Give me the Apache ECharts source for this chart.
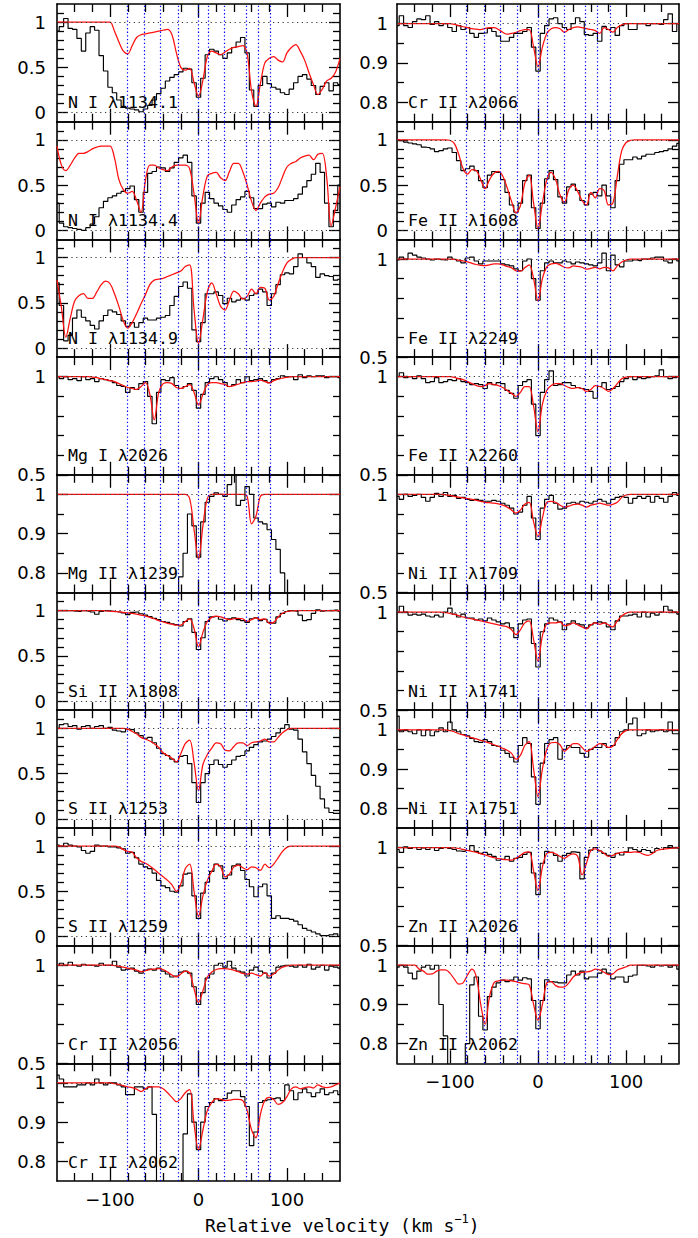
<!DOCTYPE html>
<html><head><meta charset="utf-8">
<script src="https://cdn.jsdelivr.net/npm/echarts@6/dist/echarts.min.js"></script>
<style>html,body{margin:0;padding:0;background:#fff}#c{width:698px;height:1238px}</style>
</head><body><div id="c"></div>
<script>
// ---------- data ----------
const velocity = [-160,-155,-150,-145,-140,-135,-130,-125,-120,-115,-110,-105,-100,
 -95,-90,-85,-80,-75,-70,-65,-60,-55,-50,-45,-40,-35,
 -30,-25,-20,-15,-10,-5,0,5,10,15,20,25,30,
 35,40,45,50,55,60,65,70,75,80,85,90,95,
 100,105,110,115,120,125,130,135,140,145,150,155,160];

const components = [-81,-61,-43,-23,0,10.5,29.5,53.5,67.5,81.5];
const xMinorTicks = [-140,-120,-80,-60,-40,-20,20,40,60,80,120,140];
const xMajorTicks = [-100,0,100];
const fullMajor = [0,0.5,1], fullMinor = [0.1,0.2,0.3,0.4,0.6,0.7,0.8,0.9,1.1];
const midMajor = [0.5,1], midMinor = [0.6,0.7,0.8,0.9];
const narrowMajor = [0.8,0.9,1], narrowMinor = [0.85,0.95];

const NI1134_1_obs = [0.9,0.95,1.04,0.93,0.92,0.82,0.68,0.88,0.95,0.91,0.63,0.46,0.28,
 0.22,0.14,0.07,0.05,0.04,0.03,0.01,0.04,0.08,0.14,0.21,0.27,0.35,
 0.39,0.42,0.45,0.49,0.48,0.33,0.17,0.38,0.64,0.7,0.68,0.64,0.6,
 0.66,0.72,0.78,0.83,0.66,0.25,0.07,0.3,0.4,0.32,0.28,0.26,0.22,
 0.2,0.26,0.33,0.4,0.42,0.37,0.3,0.2,0.29,0.33,0.24,0.33,0.31];
const NI1134_1_fit = [1,1,1,1,1,1,1,1,1,1,1,1,1,
 0.9,0.78,0.68,0.65,0.74,0.83,0.86,0.87,0.88,0.89,0.9,0.91,0.92,
 0.86,0.66,0.5,0.47,0.49,0.33,0.18,0.36,0.62,0.68,0.66,0.64,0.67,
 0.7,0.72,0.73,0.74,0.65,0.24,0.07,0.32,0.55,0.6,0.62,0.58,0.56,
 0.66,0.72,0.75,0.68,0.58,0.44,0.31,0.2,0.26,0.35,0.38,0.45,0.6];

const NI1134_4_obs = [0.3,0.08,0.04,0.03,0.02,0.01,0.0,0.03,0.07,0.15,0.25,0.32,0.36,
 0.38,0.41,0.43,0.46,0.49,0.34,0.2,0.42,0.63,0.65,0.7,0.69,0.65,
 0.69,0.75,0.8,0.83,0.75,0.38,0.08,0.3,0.42,0.35,0.3,0.27,0.23,
 0.2,0.28,0.34,0.37,0.43,0.36,0.24,0.24,0.29,0.3,0.26,0.31,0.3,
 0.33,0.33,0.35,0.4,0.48,0.55,0.62,0.74,0.64,0.3,0.04,0.22,0.5];
const NI1134_4_fit = [0.93,0.72,0.66,0.72,0.8,0.85,0.85,0.87,0.9,0.92,0.93,0.93,0.93,
 0.8,0.56,0.45,0.41,0.43,0.33,0.2,0.55,0.72,0.72,0.69,0.67,0.66,
 0.7,0.72,0.72,0.72,0.68,0.4,0.08,0.38,0.6,0.63,0.64,0.58,0.55,
 0.65,0.74,0.74,0.65,0.5,0.32,0.22,0.3,0.37,0.4,0.41,0.47,0.59,
 0.7,0.74,0.76,0.8,0.82,0.83,0.78,0.84,0.85,0.58,0.05,0.25,0.48];

const NI1134_9_obs = [0.72,0.47,0.08,0.14,0.33,0.42,0.34,0.3,0.25,0.21,0.3,0.36,0.42,
 0.4,0.37,0.3,0.24,0.28,0.23,0.28,0.33,0.31,0.31,0.33,0.34,0.36,
 0.47,0.57,0.68,0.73,0.66,0.2,0.07,0.28,0.6,0.6,0.62,0.58,0.49,
 0.55,0.51,0.53,0.55,0.53,0.58,0.6,0.65,0.62,0.47,0.6,0.7,0.81,
 0.83,0.82,0.9,1.04,1.0,0.94,0.9,0.78,0.82,0.8,0.79,0.75,0.76];
const NI1134_9_fit = [0.75,0.45,0.12,0.33,0.52,0.58,0.6,0.55,0.55,0.62,0.7,0.74,0.71,
 0.6,0.46,0.3,0.22,0.28,0.38,0.49,0.59,0.7,0.75,0.76,0.77,0.79,
 0.81,0.83,0.85,0.9,0.92,0.42,0.05,0.32,0.62,0.72,0.6,0.46,0.42,
 0.53,0.63,0.6,0.54,0.57,0.65,0.6,0.67,0.66,0.53,0.57,0.71,0.84,
 0.94,0.98,1,1,1,1,1,1,1,1,1,1,1];

const MgI2026_obs = [1.0,0.99,1.0,0.985,0.99,0.98,1.0,0.985,0.99,0.975,0.99,0.985,0.98,
 0.97,0.955,0.95,0.92,0.945,0.935,0.965,0.975,0.9,0.76,0.92,0.985,0.98,
 0.995,0.955,0.94,0.95,0.965,0.93,0.84,0.91,0.97,0.99,1.0,0.985,0.97,
 0.95,0.96,0.985,0.97,1.0,0.98,0.985,0.99,0.98,0.97,0.985,0.99,1.005,
 1.0,1.0,0.985,1.01,0.995,1.005,1.0,1.005,1.005,0.995,1.0,1.0,0.995];
const MgI2026_fit = [1,1,1,1,1,1,1,1,0.998,0.995,0.99,0.985,0.98,
 0.975,0.965,0.955,0.945,0.94,0.935,0.95,0.97,0.91,0.78,0.92,0.965,0.97,
 0.965,0.945,0.94,0.95,0.96,0.92,0.855,0.91,0.96,0.97,0.97,0.965,0.96,
 0.95,0.955,0.962,0.97,0.975,0.975,0.978,0.982,0.975,0.968,0.98,0.988,0.993,
 0.997,1,1,1,1,1,1,1,1,1,1,1,1];

const MgII1239_obs = [0.7,0.7,0.7,0.7,0.7,0.7,0.7,0.7,0.7,0.7,0.7,0.7,0.7,
 0.7,0.7,0.7,0.7,0.7,0.7,0.7,0.7,0.7,0.7,0.7,0.7,0.7,
 0.7,0.72,0.79,0.85,0.95,0.92,0.84,0.93,0.98,0.995,1.004,1.0,0.995,
 1.025,1.06,0.972,0.985,1.02,1.0,0.94,0.93,0.925,0.91,0.885,0.86,0.8,
 0.72,0.7,0.7,0.7,0.7,0.7,0.7,0.7,0.7,0.7,0.7,0.7,0.7];
const MgII1239_fit = [1,1,1,1,1,1,1,1,1,1,1,1,1,
 1,1,1,1,1,1,1,1,1,1,1,1,1,
 1,1,1,1,0.99,0.91,0.835,0.92,0.99,1,1,1,1,
 1,1,1,1,0.995,0.925,0.945,0.995,1,1,1,1,1,
 1,1,1,1,1,1,1,1,1,1,1,1,1];

const SiII1808_obs = [1.0,1.0,1.0,1.0,0.995,0.99,1.0,0.995,0.985,0.96,0.99,1.0,0.995,
 0.99,0.985,0.975,0.955,0.98,0.985,0.965,0.95,0.935,0.915,0.9,0.88,0.87,
 0.855,0.845,0.83,0.88,0.91,0.76,0.57,0.7,0.88,0.93,0.935,0.905,0.885,
 0.91,0.92,0.9,0.89,0.87,0.91,0.92,0.89,0.905,0.87,0.86,0.93,0.97,
 0.99,1.0,0.995,0.95,0.89,0.9,0.97,1.01,0.995,1.0,1.0,1.005,0.995];
const SiII1808_fit = [1,1,1,1,1,1,1,1,1,1,1,0.998,0.995,
 0.99,0.985,0.98,0.975,0.97,0.96,0.95,0.94,0.925,0.91,0.89,0.875,0.86,
 0.85,0.84,0.84,0.88,0.91,0.8,0.6,0.76,0.88,0.925,0.94,0.93,0.915,
 0.9,0.91,0.915,0.91,0.88,0.9,0.92,0.9,0.91,0.86,0.87,0.93,0.97,
 0.99,0.998,1,1,1,1,1,1,1,1,1,1,1];

const SII1253_obs = [1.0,1.04,1.05,1.02,1.03,0.99,1.02,1.03,1.0,1.02,1.03,1.0,1.01,
 0.98,0.97,0.96,0.99,0.985,0.95,0.92,0.89,0.9,0.84,0.78,0.72,0.7,
 0.66,0.63,0.69,0.7,0.61,0.4,0.18,0.4,0.5,0.6,0.65,0.6,0.57,
 0.6,0.65,0.69,0.7,0.75,0.79,0.82,0.85,0.86,0.88,0.91,0.95,1.0,
 1.04,0.99,0.98,0.88,0.74,0.61,0.48,0.36,0.22,0.12,0.07,0.06,0.06];
const SII1253_fit = [1,1,1,1,1,1,1,1,1,1,1,1,1,
 1,1,1,0.99,0.965,0.94,0.9,0.88,0.86,0.83,0.79,0.73,0.7,
 0.67,0.63,0.72,0.83,0.87,0.62,0.31,0.6,0.71,0.78,0.84,0.83,0.76,
 0.75,0.8,0.84,0.84,0.81,0.84,0.85,0.86,0.88,0.85,0.85,0.9,0.95,
 0.985,1,1,1,1,1,1,1,1,1,1,1,1];

const SII1259_obs = [1.01,1.0,1.03,1.01,1.0,0.99,0.95,0.92,0.94,1.01,1.0,1.0,0.99,
 0.99,0.98,0.97,0.92,0.93,0.87,0.8,0.77,0.75,0.7,0.62,0.56,0.54,
 0.5,0.49,0.56,0.69,0.7,0.45,0.2,0.48,0.6,0.72,0.8,0.78,0.64,
 0.68,0.78,0.8,0.73,0.63,0.55,0.44,0.55,0.58,0.45,0.2,0.23,0.2,
 0.2,0.19,0.17,0.13,0.09,0.07,0.05,0.03,0.01,0.01,0.02,0.03,0.0];
const SII1259_fit = [1,1,1,1,1,1,1,1,1,1,1,1,1,
 1.0,0.99,0.96,0.94,0.93,0.87,0.83,0.81,0.78,0.74,0.7,0.66,0.62,
 0.57,0.5,0.58,0.75,0.8,0.5,0.22,0.45,0.62,0.72,0.8,0.77,0.66,
 0.69,0.77,0.79,0.76,0.74,0.77,0.76,0.73,0.8,0.76,0.8,0.87,0.94,
 0.985,1,1,1,1,1,1,1,1,1,1,1,1];

const CrII2056_obs = [1.0,1.01,1.0,1.015,1.0,0.995,1.005,1.0,1.0,0.995,1.01,1.0,1.0,
 1.02,0.99,0.975,0.98,0.985,0.97,0.96,0.975,0.98,0.975,0.985,0.97,0.955,
 0.94,0.945,0.965,0.97,0.96,0.89,0.8,0.86,0.935,0.955,1.0,1.01,0.99,
 1.02,0.985,0.97,0.965,0.945,0.975,0.99,0.97,0.96,0.935,0.96,0.99,0.995,
 1.0,0.995,0.99,1.0,0.99,1.005,0.98,0.99,1.0,0.975,0.995,0.99,0.985];
const CrII2056_fit = [1,1,1,1,1,1,1,1,1,1,1,1,1,
 0.998,0.995,0.99,0.985,0.98,0.975,0.967,0.972,0.978,0.98,0.982,0.978,0.965,
 0.95,0.94,0.955,0.97,0.96,0.88,0.81,0.87,0.94,0.965,0.978,0.982,0.982,
 0.98,0.975,0.967,0.958,0.955,0.96,0.952,0.945,0.962,0.945,0.955,0.975,0.99,
 0.997,1,1,1,1,1,1,1,1,1,1,1,1];

const CrII2062_obs = [1.02,1.01,0.99,0.99,0.99,0.995,0.995,1.0,0.995,1.01,1.0,0.995,1.0,
 1.0,0.995,0.99,0.97,0.97,0.99,0.99,0.985,0.99,0.92,0.6,0.6,0.6,
 0.6,0.6,0.68,0.87,0.972,0.9,0.83,0.9,0.94,0.95,0.96,0.955,0.96,
 0.974,0.98,0.98,0.965,0.94,0.84,0.875,0.95,0.955,0.957,0.96,0.962,0.955,
 0.995,0.98,0.957,0.975,0.985,0.975,0.965,0.975,0.985,0.97,0.975,0.98,0.97];
const CrII2062_fit = [1,1,1,1,1,1,1,1,1,1,1,1,1,
 0.998,0.996,0.993,0.99,0.988,0.984,0.978,0.985,0.99,0.99,0.99,0.985,0.975,
 0.963,0.952,0.96,0.975,0.983,0.895,0.83,0.88,0.93,0.95,0.96,0.958,0.955,
 0.956,0.958,0.958,0.955,0.93,0.88,0.86,0.92,0.955,0.963,0.958,0.945,0.95,
 0.965,0.985,0.99,0.985,0.988,0.99,0.987,0.995,0.99,0.988,0.99,0.995,1.0];

const CrII2066_obs = [0.995,1.02,0.995,0.99,1.005,1.012,1.01,1.02,0.998,1.005,0.995,1.0,0.99,
 0.98,0.995,0.985,0.99,0.975,0.965,0.975,0.976,0.988,0.98,0.968,0.955,0.955,
 0.965,0.975,0.975,0.98,0.99,0.94,0.879,0.975,0.995,1.012,1.015,1.0,0.99,
 0.985,1.0,1.015,1.005,0.972,0.97,0.975,0.955,0.993,0.985,0.99,0.97,0.995,
 1.0,0.985,0.985,1.0,1.0,0.995,1.0,1.0,0.998,1.01,1.025,0.98,1.0];
const CrII2066_fit = [1,1,1,1,1,1,1,1,1,1,1,1,1,
 0.998,0.995,0.992,0.99,0.987,0.986,0.985,0.988,0.99,0.99,0.985,0.978,0.973,
 0.975,0.978,0.982,0.985,0.985,0.94,0.89,0.94,0.975,0.987,0.99,0.987,0.978,
 0.985,0.99,0.992,0.99,0.987,0.985,0.982,0.975,0.99,0.985,0.978,0.99,0.997,
 1,1,1,1,1,1,1,1,1,1,1,1,1];

const FeII1608_obs = [1.0,0.99,0.975,0.965,0.955,0.945,0.92,0.915,0.9,0.87,0.88,0.9,0.91,
 0.86,0.77,0.66,0.68,0.71,0.66,0.55,0.47,0.61,0.65,0.64,0.56,0.42,
 0.28,0.2,0.3,0.55,0.61,0.25,0.02,0.3,0.57,0.66,0.56,0.37,0.3,
 0.48,0.51,0.44,0.33,0.28,0.4,0.42,0.38,0.5,0.38,0.25,0.55,0.73,
 0.78,0.78,0.81,0.79,0.82,0.84,0.84,0.86,0.87,0.88,0.9,0.93,0.96];
const FeII1608_fit = [1,1,1,1,1,1,1,1,1,1,1,1,0.995,
 0.96,0.84,0.68,0.62,0.67,0.66,0.56,0.46,0.56,0.63,0.65,0.6,0.47,
 0.32,0.19,0.27,0.52,0.61,0.3,0.02,0.3,0.56,0.64,0.56,0.39,0.31,
 0.45,0.5,0.43,0.33,0.28,0.42,0.36,0.46,0.44,0.28,0.3,0.6,0.88,
 0.97,0.995,1,1,1,1,1,1,1,1,1,1,1];

const FeII2249_obs = [0.995,1.01,1.0,1.03,1.02,1.01,1.005,1.0,0.995,1.0,0.997,0.995,1.01,
 0.998,0.99,0.98,1.005,1.01,0.99,0.975,0.99,0.99,0.99,0.99,0.975,0.97,
 0.965,0.95,0.94,0.99,1.0,0.9,0.79,0.94,0.98,0.99,0.98,0.98,0.99,
 0.985,0.975,0.985,0.98,0.975,0.97,0.965,0.98,1.03,0.94,1.02,0.97,0.96,
 0.99,0.99,0.995,0.992,1.0,1.0,1.005,1.01,1.01,0.99,0.98,1.0,0.99];
const FeII2249_fit = [1,1,1,1,1,1,1,1,1,1,1,1,1,
 0.998,0.994,0.99,0.985,0.978,0.972,0.968,0.966,0.97,0.975,0.975,0.97,0.962,
 0.955,0.94,0.938,0.955,0.97,0.9,0.785,0.9,0.96,0.975,0.978,0.97,0.958,
 0.955,0.965,0.962,0.958,0.948,0.952,0.958,0.95,0.958,0.955,0.94,0.965,0.985,
 0.995,1,1,1,1,1,1,1,1,1,1,1,1];

const FeII2260_obs = [1.0,1.02,0.995,1.0,0.99,1.005,0.99,0.97,0.975,0.995,0.97,0.975,0.985,
 0.98,0.99,0.975,0.97,0.96,0.965,0.96,0.94,0.97,0.96,0.97,0.965,0.93,
 0.915,0.89,0.955,0.975,0.985,0.86,0.7,0.92,0.985,1.03,0.955,0.96,0.97,
 0.97,0.955,0.945,0.94,0.935,0.925,0.89,0.95,0.97,0.935,0.94,0.95,0.975,
 0.99,1.0,0.985,0.995,0.99,0.995,1.0,1.005,1.035,1.0,0.99,0.995,1.0];
const FeII2260_fit = [1,1,1,1,1,1,1,1,1,1,1,1,1,
 0.997,0.99,0.985,0.975,0.965,0.955,0.95,0.955,0.965,0.96,0.955,0.945,0.93,
 0.915,0.9,0.92,0.95,0.95,0.85,0.72,0.86,0.93,0.955,0.965,0.965,0.955,
 0.945,0.94,0.945,0.94,0.925,0.935,0.955,0.95,0.94,0.925,0.94,0.965,0.99,
 0.998,1,1,1,1,1,1,1,1,1,1,1,1];

const NiII1709_obs = [0.99,0.975,1.0,0.99,0.995,1.0,0.985,0.965,0.985,1.005,0.99,1.01,0.99,
 0.995,0.98,0.985,0.975,0.97,0.975,0.97,0.965,0.965,0.97,0.965,0.955,0.945,
 0.93,0.9,0.91,0.945,0.99,0.88,0.77,0.93,0.975,0.995,0.955,0.925,0.93,
 0.955,0.96,0.955,0.965,0.96,0.955,0.965,0.975,0.965,0.955,0.975,0.985,0.99,
 0.985,0.955,0.98,0.99,0.98,0.99,0.96,0.99,0.98,0.96,0.99,1.01,0.995];
const NiII1709_fit = [1,1,1,1,1,1,1,1,1,1,1,0.998,0.995,
 0.99,0.986,0.982,0.978,0.975,0.97,0.965,0.96,0.958,0.955,0.952,0.945,0.935,
 0.92,0.905,0.92,0.95,0.96,0.86,0.785,0.88,0.96,0.965,0.96,0.945,0.935,
 0.94,0.948,0.95,0.945,0.935,0.945,0.95,0.955,0.95,0.945,0.95,0.96,0.985,
 0.997,1,1,1,1,1,1,1,1,1,1,1,1];

const NiII1741_obs = [1.0,1.03,1.0,0.985,0.99,0.985,0.99,0.98,0.975,0.985,0.975,1.0,1.02,
 0.99,0.975,0.99,0.97,0.97,0.96,0.965,0.955,0.97,0.96,0.95,0.94,0.945,
 0.92,0.87,0.94,0.96,0.965,0.84,0.72,0.9,0.94,0.97,0.96,0.95,0.91,
 0.94,0.955,0.94,0.935,0.92,0.935,0.945,0.95,0.945,0.925,0.91,0.955,0.98,
 0.98,0.985,0.99,0.975,1.0,0.975,0.995,0.985,1.0,1.03,1.01,1.0,0.99];
const NiII1741_fit = [1,1,1,1,1,1,1,1,1,1,1,0.997,0.993,
 0.988,0.982,0.975,0.97,0.965,0.96,0.955,0.95,0.945,0.94,0.935,0.93,0.925,
 0.91,0.885,0.91,0.945,0.955,0.86,0.75,0.88,0.94,0.945,0.945,0.95,0.93,
 0.935,0.945,0.935,0.925,0.915,0.935,0.945,0.938,0.945,0.935,0.925,0.955,0.98,
 0.995,1,1,1,1,1,1,1,1,1,1,1,1];

const NiII1751_obs = [1.035,0.995,1.0,0.995,0.99,1.0,0.985,1.0,0.985,0.995,1.005,0.995,1.02,
 1.0,0.995,0.988,0.985,0.978,0.97,0.968,0.975,0.97,0.96,0.958,0.948,0.94,
 0.93,0.918,0.96,0.98,0.965,0.88,0.81,0.915,0.965,0.975,0.98,0.925,0.95,
 0.96,0.955,0.955,0.94,0.93,0.95,0.955,0.955,0.965,0.955,0.96,0.98,0.995,
 1.0,1.015,1.03,0.985,0.99,1.0,0.995,0.998,1.0,0.995,1.02,0.99,0.99];
const NiII1751_fit = [1,1,1,1,1,1,1,1,1,1,1,1,0.998,
 0.995,0.99,0.987,0.983,0.98,0.977,0.973,0.97,0.966,0.962,0.958,0.953,0.948,
 0.94,0.925,0.935,0.96,0.97,0.9,0.83,0.9,0.95,0.967,0.968,0.962,0.945,
 0.955,0.965,0.965,0.955,0.945,0.95,0.958,0.965,0.962,0.955,0.958,0.975,0.99,
 0.998,1,1,1,1,1,1,1,1,1,1,1,1];

const ZnII2026_obs = [0.99,0.975,1.003,0.995,1.0,0.99,0.998,0.99,1.0,0.985,0.995,1.0,0.995,
 0.99,0.982,0.98,0.985,1.01,0.98,0.97,0.975,0.965,0.955,0.935,0.94,0.955,
 0.93,0.945,0.95,0.965,0.975,0.87,0.76,0.92,0.98,0.975,0.96,0.93,0.96,
 0.97,0.978,0.975,0.84,0.95,0.987,1.0,0.982,0.97,0.96,0.95,0.97,0.962,
 0.978,0.998,0.99,0.98,0.99,0.985,0.975,0.995,0.99,1.0,1.01,0.998,0.995];
const ZnII2026_fit = [1,1,1,1,1,1,1,1,1,1,1,1,1,
 0.998,0.995,0.99,0.985,0.98,0.975,0.968,0.962,0.955,0.948,0.944,0.94,0.938,
 0.936,0.945,0.96,0.975,0.978,0.88,0.78,0.9,0.97,0.975,0.968,0.955,0.945,
 0.96,0.968,0.955,0.86,0.92,0.985,0.993,0.985,0.97,0.955,0.96,0.97,0.975,
 0.975,0.975,0.978,0.975,0.965,0.96,0.97,0.985,0.99,0.993,0.995,0.998,1.0];

const ZnII2062_obs = [0.995,1.0,0.995,0.98,0.965,0.985,0.995,1.0,0.99,1.0,0.9,0.82,0.6,
 0.5,0.5,0.6,0.8,0.95,0.97,0.87,0.835,0.92,0.944,0.955,0.962,0.958,
 0.962,0.97,0.962,0.968,0.965,0.91,0.838,0.91,0.963,0.958,0.957,0.955,0.955,
 0.975,0.985,0.975,0.985,0.965,0.97,0.97,0.98,0.99,0.98,0.965,0.97,0.97,
 0.957,0.972,0.975,1.0,1.0,0.998,0.995,1.0,0.998,1.0,0.995,1.0,0.99];
const ZnII2062_fit = [1,1,1,1,1,0.99,0.985,0.977,0.978,0.985,0.988,0.988,0.98,
 0.965,0.952,0.955,0.975,0.99,0.97,0.9,0.85,0.92,0.955,0.96,0.962,0.962,
 0.96,0.958,0.955,0.953,0.95,0.9,0.86,0.9,0.955,0.958,0.948,0.944,0.945,
 0.955,0.97,0.978,0.982,0.983,0.985,0.99,0.988,0.982,0.976,0.978,0.988,0.992,
 0.996,1,1,1,1,1,1,1,1,1,1,1,1];

// ---------- panel list (built from the arrays above) ----------
const RANGES = {
  full:   {min:-0.1, max:1.2,  major:fullMajor,   minor:fullMinor,   guides:[0,1]},
  mid:    {min:0.5,  max:1.1,  major:midMajor,    minor:midMinor,    guides:[1]},
  narrow: {min:0.75, max:1.05, major:narrowMajor, minor:narrowMinor, guides:[1]}
};
const panels = [
  {label:'N I λ1134.1', col:0,row:0,r:'full',  obs:NI1134_1_obs, fit:NI1134_1_fit},
  {label:'N I λ1134.4', col:0,row:1,r:'full',  obs:NI1134_4_obs, fit:NI1134_4_fit},
  {label:'N I λ1134.9', col:0,row:2,r:'full',  obs:NI1134_9_obs, fit:NI1134_9_fit},
  {label:'Mg I λ2026',  col:0,row:3,r:'mid',   obs:MgI2026_obs,  fit:MgI2026_fit},
  {label:'Mg II λ1239', col:0,row:4,r:'narrow',obs:MgII1239_obs, fit:MgII1239_fit},
  {label:'Si II λ1808', col:0,row:5,r:'full',  obs:SiII1808_obs, fit:SiII1808_fit},
  {label:'S II λ1253',  col:0,row:6,r:'full',  obs:SII1253_obs,  fit:SII1253_fit},
  {label:'S II λ1259',  col:0,row:7,r:'full',  obs:SII1259_obs,  fit:SII1259_fit},
  {label:'Cr II λ2056', col:0,row:8,r:'mid',   obs:CrII2056_obs, fit:CrII2056_fit},
  {label:'Cr II λ2062', col:0,row:9,r:'narrow',obs:CrII2062_obs, fit:CrII2062_fit},
  {label:'Cr II λ2066', col:1,row:0,r:'narrow',obs:CrII2066_obs, fit:CrII2066_fit},
  {label:'Fe II λ1608', col:1,row:1,r:'full',  obs:FeII1608_obs, fit:FeII1608_fit},
  {label:'Fe II λ2249', col:1,row:2,r:'mid',   obs:FeII2249_obs, fit:FeII2249_fit},
  {label:'Fe II λ2260', col:1,row:3,r:'mid',   obs:FeII2260_obs, fit:FeII2260_fit},
  {label:'Ni II λ1709', col:1,row:4,r:'mid',   obs:NiII1709_obs, fit:NiII1709_fit},
  {label:'Ni II λ1741', col:1,row:5,r:'mid',   obs:NiII1741_obs, fit:NiII1741_fit},
  {label:'Ni II λ1751', col:1,row:6,r:'narrow',obs:NiII1751_obs, fit:NiII1751_fit},
  {label:'Zn II λ2026', col:1,row:7,r:'mid',   obs:ZnII2026_obs, fit:ZnII2026_fit},
  {label:'Zn II λ2062', col:1,row:8,r:'narrow',obs:ZnII2062_obs, fit:ZnII2062_fit}
];

// ---------- layout & styling ----------
const colX = [57, 397], colW = [283, 282], top0 = 4, panelH = 117.7;
const lastRow = [9, 8];
const NUM_FONT = 'DejaVu Sans';
const LBL_FONT = 'DejaVu Sans Mono';

const grids = [], xAxes = [], yAxes = [], series = [], graphics = [];

function xAxisDef(gi, pos, ticks, len, showLine, showLabels) {
  return {
    gridIndex: gi, type: 'value', position: pos, min: -160, max: 160,
    axisLine: {show: showLine, onZero: false, lineStyle: {color: '#000', width: 1.6}},
    axisTick: {show: true, inside: true, length: len, customValues: ticks, lineStyle: {color: '#000', width: 1.3}},
    axisLabel: {show: showLabels, customValues: xMajorTicks, margin: 9,
      formatter: v => (v < 0 ? '\u2212' + Math.abs(v) : String(v)),
      fontFamily: NUM_FONT, fontSize: 18, color: '#000'},
    splitLine: {show: false}
  };
}
function yAxisDef(gi, pos, R, ticks, len, showLine, showLabels, margin) {
  return {
    gridIndex: gi, type: 'value', position: pos, min: R.min, max: R.max,
    axisLine: {show: showLine, onZero: false, lineStyle: {color: '#000', width: 1.6}},
    axisTick: {show: true, inside: true, length: len, customValues: ticks, lineStyle: {color: '#000', width: 1.3}},
    axisLabel: {show: showLabels, customValues: R.major, margin: margin,
      fontFamily: NUM_FONT, fontSize: 18, color: '#000'},
    splitLine: {show: false}
  };
}

panels.forEach((p, i) => {
  const R = RANGES[p.r];
  const top = top0 + p.row * panelH;
  grids.push({left: colX[p.col], top: top, width: colW[p.col], height: panelH});
  const showX = p.row === lastRow[p.col];
  xAxes.push(xAxisDef(i, 'bottom', xMinorTicks, 8, true, false));
  xAxes.push(xAxisDef(i, 'bottom', xMajorTicks, 13, false, showX));
  xAxes.push(xAxisDef(i, 'top', xMinorTicks, 8, true, false));
  xAxes.push(xAxisDef(i, 'top', xMajorTicks, 13, false, false));
  const m = p.col === 0 ? 11 : 9;
  yAxes.push(yAxisDef(i, 'left', R, R.minor, 7, true, false, m));
  yAxes.push(yAxisDef(i, 'left', R, R.major, 11, false, true, m));
  yAxes.push(yAxisDef(i, 'right', R, R.minor, 7, true, false, m));
  yAxes.push(yAxisDef(i, 'right', R, R.major, 11, false, false, m));

  const guideLines = components.map(c => ({xAxis: c, lineStyle: {color: '#0000ff', type: [1.3, 2.4], width: 1.2}}))
    .concat(R.guides.map(g => ({yAxis: g, lineStyle: {color: '#333', type: [1.2, 3.6], width: 1.1}})));

  series.push({
    type: 'line', xAxisIndex: 4 * i, yAxisIndex: 4 * i,
    data: velocity.map((v, k) => [v, p.obs[k]]),
    step: 'middle', showSymbol: false, symbol: 'none', clip: true, silent: true, z: 3,
    lineStyle: {color: '#000', width: 1.15},
    markLine: {silent: true, symbol: ['none', 'none'], label: {show: false}, animation: false, data: guideLines}
  });
  series.push({
    type: 'line', xAxisIndex: 4 * i, yAxisIndex: 4 * i,
    data: velocity.map((v, k) => [v, p.fit[k]]),
    smooth: 0.35, showSymbol: false, symbol: 'none', clip: true, silent: true, z: 4,
    lineStyle: {color: '#ff1010', width: 1.25}
  });

  graphics.push({
    type: 'text', x: colX[p.col] + 11, y: top + panelH - 19, z: 100, silent: true,
    style: {text: p.label, fontFamily: LBL_FONT, fontSize: 16.6, fill: '#000',
      align: 'left', textAlign: 'left', verticalAlign: 'middle', textVerticalAlign: 'middle'}
  });
});

graphics.push({
  type: 'text', x: 205, y: 1225, z: 100, silent: true,
  style: {
    text: '{a|Relative velocity (km s}{b|\u22121}{a|)}',
    align: 'left', textAlign: 'left', verticalAlign: 'middle', textVerticalAlign: 'middle',
    rich: {
      a: {fontFamily: LBL_FONT, fontSize: 18, fill: '#000', lineHeight: 24, verticalAlign: 'middle'},
      b: {fontFamily: LBL_FONT, fontSize: 12, fill: '#000', lineHeight: 24, verticalAlign: 'top'}
    }
  }
});

const chart = echarts.init(document.getElementById('c'), null, {renderer: 'svg', width: 698, height: 1238});
chart.setOption({
  animation: false,
  backgroundColor: '#fff',
  grid: grids, xAxis: xAxes, yAxis: yAxes, series: series, graphic: graphics
});
</script>
</body></html>
